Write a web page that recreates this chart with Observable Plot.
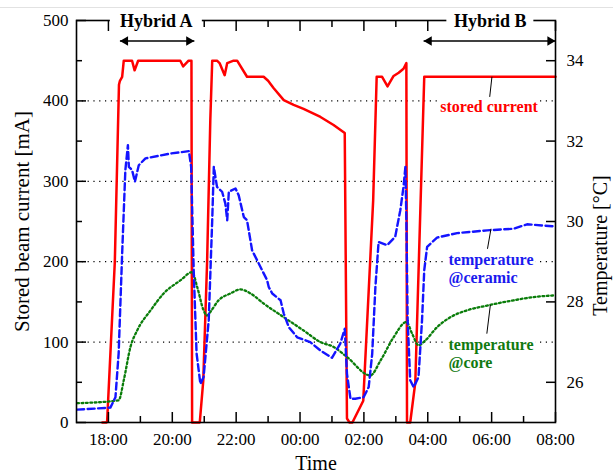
<!DOCTYPE html>
<html>
<head>
<meta charset="utf-8">
<script src="https://cdn.jsdelivr.net/npm/d3@7"></script>
<script src="https://cdn.jsdelivr.net/npm/@observablehq/plot@0.6"></script>
<style>
  html, body { margin: 0; padding: 0; background: #fff; }
  #wrap { position: relative; width: 613px; height: 474px; overflow: hidden; }
  #topline { position: absolute; left: 0; top: 7px; width: 613px; height: 1px; background: #e2e2e2; }
</style>
</head>
<body>
<div id="wrap"><div id="topline"></div></div>
<script>
// ---- Stored beam current (mA) vs time (hours; 24+ = next day) ----
const currentTime = [17.81, 17.94, 17.96, 18.20, 18.33, 18.36, 18.43, 18.48, 18.74, 18.82, 18.93, 20.25, 20.34, 20.51, 20.60, 20.62, 20.86, 20.97, 21.09, 21.19, 21.25, 21.40, 21.48, 21.64, 21.72, 21.92, 22.03, 22.34, 22.86, 23.00, 23.17, 23.49, 23.80, 24.11, 24.64, 25.05, 25.40, 25.47, 25.55, 25.64, 25.98, 26.29, 26.40, 26.57, 26.74, 26.93, 27.09, 27.24, 27.33, 27.35, 27.45, 27.61, 27.85, 27.89, 32.00];
const currentMA   = [0, 0, 2, 200, 420, 425, 430, 450, 450, 438, 450, 450, 443, 450, 450, 0, 0, 52, 200, 376, 450, 450, 447, 432, 447, 450, 450, 430, 430, 425, 416, 401, 395, 390, 380, 370, 360, 5, 0, 0, 27, 276, 430, 430, 418, 431, 435, 440, 447, 0, 0, 50, 376, 430, 430];

// ---- Temperature @ceramic (°C) ----
const ceramicTime = [17.02, 18.06, 18.22, 18.32, 18.43, 18.53, 18.61, 18.64, 18.74, 18.83, 18.95, 19.16, 19.94, 20.52, 20.59, 20.67, 20.76, 20.88, 20.98, 21.14, 21.25, 21.30, 21.40, 21.56, 21.66, 21.72, 21.77, 21.98, 22.08, 22.24, 22.34, 22.50, 22.66, 22.81, 22.97, 23.02, 23.13, 23.39, 23.49, 23.65, 23.91, 24.32, 24.64, 25.00, 25.26, 25.40, 25.47, 25.58, 25.73, 25.99, 26.15, 26.26, 26.36, 26.46, 26.73, 26.98, 27.14, 27.24, 27.30, 27.33, 27.37, 27.45, 27.56, 27.71, 27.82, 27.89, 27.98, 28.29, 28.92, 29.86, 30.69, 31.11, 31.94];
const ceramicTemp = [25.32, 25.37, 25.63, 26.72, 29.21, 31.28, 31.90, 31.36, 31.28, 30.99, 31.40, 31.57, 31.69, 31.75, 31.36, 28.79, 26.72, 25.96, 26.13, 27.54, 30.03, 31.36, 30.86, 30.74, 30.45, 30.03, 30.74, 30.82, 30.65, 30.11, 30.03, 29.28, 29.03, 28.79, 28.54, 28.37, 28.21, 28.04, 27.71, 27.37, 27.12, 27.00, 26.79, 26.61, 26.96, 27.33, 26.21, 25.59, 25.59, 25.63, 25.88, 26.71, 28.37, 29.49, 29.41, 29.62, 30.28, 30.86, 31.36, 30.03, 27.54, 26.05, 25.88, 26.13, 27.54, 28.79, 29.37, 29.60, 29.71, 29.78, 29.82, 29.93, 29.88];

// ---- Temperature @core (°C) ----
const coreTime = [17.02, 18.32, 18.48, 18.69, 18.90, 19.32, 19.73, 20.26, 20.62, 20.78, 20.98, 21.09, 21.19, 21.45, 21.82, 22.13, 22.45, 22.86, 23.49, 24.11, 24.64, 25.05, 25.47, 26.20, 26.52, 26.93, 27.33, 27.51, 27.71, 27.92, 28.29, 28.71, 29.23, 29.86, 30.69, 31.31, 31.94];
const coreTemp = [25.48, 25.55, 26.05, 26.88, 27.29, 27.79, 28.21, 28.54, 28.74, 28.37, 27.79, 27.66, 27.75, 28.04, 28.21, 28.31, 28.21, 27.96, 27.62, 27.29, 27.00, 26.88, 26.63, 26.17, 26.54, 27.12, 27.50, 27.21, 26.92, 27.04, 27.37, 27.62, 27.79, 27.91, 28.04, 28.12, 28.16];

// ---- Axes ----
const timeDomain = [17, 32];
const hourMajor = [18, 20, 22, 24, 26, 28, 30, 32];
const hourMinor = [19, 21, 23, 25, 27, 29, 31];
const currentDomain = [0, 500];
const currentTicks = [0, 100, 200, 300, 400, 500];
const currentMinor = [50, 150, 250, 350, 450];
const gridCurrent = [100, 200, 300, 400];
const tempDomain = [25, 35];
const tempTicks = [26, 28, 30, 32, 34];

// ---- Annotations ----
const hybridNames = ["Hybrid A", "Hybrid B"];
const hybridCenter = [19.5, 29.96];
const hybridStart = [18.36, 27.87];
const hybridEnd = [20.69, 32.0];
const hybridLabelMA = 498.5;
const hybridArrowMA = 474.5;

const seriesLabels = ["stored current", "temperature\n@ceramic", "temperature\n@core"];
const seriesLabelTime = [29.92, 28.65, 28.65];
const seriesLabelMA = [392, 192.4, 86.3];
const seriesBoxTime = [29.92, 29.99, 29.99];
const leaderTime1 = [30.01, 29.98, 29.96];
const leaderMA1 = [430, 241, 146];
const leaderTime2 = [29.94, 29.87, 29.85];
const leaderMA2 = [405, 216, 110.5];

// ---- build tables ----
const toMA = t => (t - tempDomain[0]) * (currentDomain[1] - currentDomain[0]) / (tempDomain[1] - tempDomain[0]);
const current = currentTime.map((h, i) => ({h, v: currentMA[i]}));
const ceramic = ceramicTime.map((h, i) => ({h, v: toMA(ceramicTemp[i])}));
const core = coreTime.map((h, i) => ({h, v: toMA(coreTemp[i])}));
const hybrids = hybridNames.map((name, i) => ({name, c: hybridCenter[i], s: hybridStart[i], e: hybridEnd[i]}));
const labels = seriesLabels.map((t, i) => ({t, h: seriesLabelTime[i], v: seriesLabelMA[i], bh: seriesBoxTime[i],
  h1: leaderTime1[i], v1: leaderMA1[i], h2: leaderTime2[i], v2: leaderMA2[i]}));

const serif = "'Liberation Serif', 'Times New Roman', serif";
const fmtHour = h => String(h % 24).padStart(2, "0") + ":00";
const blank = () => "";

function whiteBox(data, x, y, halfW, halfH) {
  return Plot.rect(data, {x1: x, x2: x, y1: y, y2: y, fill: "white",
    insetLeft: -halfW, insetRight: -halfW, insetTop: -halfH, insetBottom: -halfH});
}

const chart = Plot.plot({
  width: 613,
  height: 474,
  marginLeft: 76,
  marginRight: 58,
  marginTop: 20,
  marginBottom: 52,
  style: {fontFamily: serif, fontSize: "17px", color: "black", background: "white"},
  x: {domain: timeDomain},
  y: {domain: currentDomain},
  marks: [
    Plot.gridY(gridCurrent, {stroke: "black", strokeOpacity: 1, strokeWidth: 1.2, strokeDasharray: "1.2,4.6"}),
    // white backgrounds behind the series labels (hide grid)
    whiteBox([labels[0]], "bh", "v", 51, 10),
    whiteBox([labels[1]], "bh", "v", 45, 20),
    whiteBox([labels[2]], "bh", "v", 45, 20),
    Plot.line(current, {x: "h", y: "v", stroke: "#ff0000", strokeWidth: 2.5}),
    Plot.line(core, {x: "h", y: "v", stroke: "#0a7d0a", strokeWidth: 2.3, strokeDasharray: "1.8,2.6", curve: "monotone-x"}),
    Plot.line(ceramic, {x: "h", y: "v", stroke: "#1414ff", strokeWidth: 2.4, strokeDasharray: "7,3.5"}),
    Plot.frame({stroke: "black", strokeWidth: 1.6}),
    Plot.axisY(currentTicks, {anchor: "left", tickSize: -10, tickPadding: 18, strokeWidth: 1.5, label: null, fontFamily: serif, tickFormat: d => String(d)}),
    Plot.axisY(currentMinor, {anchor: "left", tickSize: -6, tickPadding: 0, strokeWidth: 1.5, label: null, tickFormat: blank}),
    Plot.axisY(tempTicks.map(toMA), {anchor: "right", tickSize: -10, tickPadding: 21, strokeWidth: 1.5, label: null, fontFamily: serif,
      tickFormat: d => String(Math.round(tempDomain[0] + d * (tempDomain[1] - tempDomain[0]) / (currentDomain[1] - currentDomain[0])))}),
    Plot.axisX(hourMajor, {anchor: "bottom", tickSize: -10, tickPadding: 20, strokeWidth: 1.5, label: null, fontFamily: serif, tickFormat: fmtHour}),
    Plot.axisX(hourMinor, {anchor: "bottom", tickSize: -6, tickPadding: 0, strokeWidth: 1.5, label: null, tickFormat: blank}),
    Plot.axisX(hourMajor, {anchor: "top", tickSize: -10, tickPadding: 0, strokeWidth: 1.5, label: null, tickFormat: blank}),
    Plot.axisX(hourMinor, {anchor: "top", tickSize: -6, tickPadding: 0, strokeWidth: 1.5, label: null, tickFormat: blank}),
    // Hybrid labels over the top frame
    whiteBox([hybrids[0]], "c", () => 499.4, 46, 12),
    whiteBox([hybrids[1]], "c", () => 499.4, 43.5, 12),
    Plot.text(hybrids, {x: "c", y: () => hybridLabelMA, text: "name", fontFamily: serif, fontWeight: "bold", fontSize: 18, fill: "black"}),
    Plot.link(hybrids, {x1: "s", x2: "e", y1: () => hybridArrowMA, y2: () => hybridArrowMA, stroke: "black", strokeWidth: 1.5}),
    Plot.dot(hybrids, {x: "e", y: () => hybridArrowMA, symbol: "triangle", r: 3.5, rotate: 90, dx: -5.4, fill: "black", stroke: null}),
    Plot.dot(hybrids, {x: "s", y: () => hybridArrowMA, symbol: "triangle", r: 3.5, rotate: -90, dx: 5.4, fill: "black", stroke: null}),
    // series labels and leaders
    Plot.link(labels, {x1: "h1", y1: "v1", x2: "h2", y2: "v2", stroke: "black", strokeWidth: 1}),
    Plot.text([labels[0]], {x: "h", y: "v", text: "t", fontFamily: serif, fontWeight: "bold", fontSize: 16, fill: "#ff0000"}),
    Plot.text([labels[1]], {x: "h", y: "v", text: "t", fontFamily: serif, fontWeight: "bold", fontSize: 16, fill: "#1a1aee", textAnchor: "start", lineHeight: 1.15}),
    Plot.text([labels[2]], {x: "h", y: "v", text: "t", fontFamily: serif, fontWeight: "bold", fontSize: 16, fill: "#117a11", textAnchor: "start", lineHeight: 1.15}),
    // axis titles
    Plot.text(["Stored beam current [mA]"], {text: d => d, frameAnchor: "left", textAnchor: "middle", lineAnchor: "middle", dx: -54, rotate: -90, fontFamily: serif, fontSize: 21, fill: "black"}),
    Plot.text(["Temperature [°C]"], {text: d => d, frameAnchor: "right", textAnchor: "middle", lineAnchor: "middle", dx: 45, dy: 24, rotate: -90, fontFamily: serif, fontSize: 20, fill: "black"}),
    Plot.text(["Time"], {text: d => d, frameAnchor: "bottom", textAnchor: "middle", lineAnchor: "middle", dy: 41, fontFamily: serif, fontSize: 20, fill: "black"})
  ]
});
document.getElementById("wrap").appendChild(chart);
</script>
</body>
</html>
